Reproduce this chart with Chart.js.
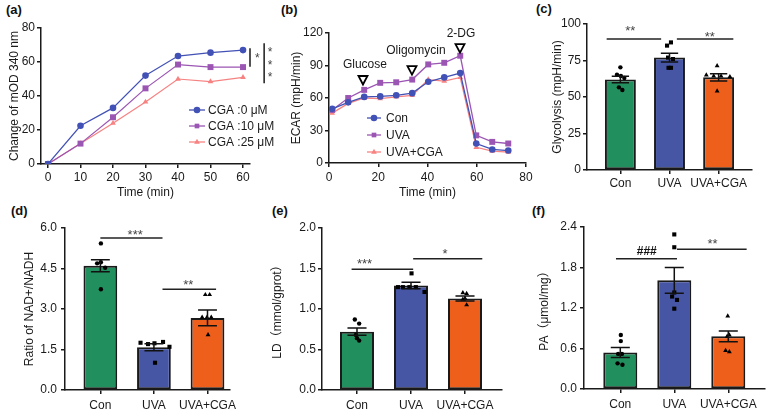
<!DOCTYPE html>
<html><head><meta charset="utf-8">
<script src="https://cdn.jsdelivr.net/npm/chart.js@4.4.1/dist/chart.umd.min.js"></script>
<style>
html,body{margin:0;padding:0;background:#fff;}
body{width:779px;height:419px;position:relative;overflow:hidden;font-family:"Liberation Sans",Arial,sans-serif;}
.pl{position:absolute;font-weight:bold;font-size:13px;line-height:13px;color:#111;}
canvas{position:absolute;}
</style></head><body>
<div class="pl" style="left:6px;top:3px">(a)</div>
<div class="pl" style="left:281px;top:3px">(b)</div>
<div class="pl" style="left:536px;top:2px">(c)</div>
<div class="pl" style="left:11px;top:204px">(d)</div>
<div class="pl" style="left:272px;top:204px">(e)</div>
<div class="pl" style="left:532px;top:204px">(f)</div>
<canvas id="ca"></canvas><canvas id="cb"></canvas><canvas id="cc"></canvas>
<canvas id="cd"></canvas><canvas id="ce"></canvas><canvas id="cf"></canvas>
<script>
// ---------------- DATA ----------------
// (a)
const timeA = [0, 10, 20, 30, 40, 50, 60];
const cga0  = [0, 22.5, 33, 52, 63.5, 65.5, 67];
const cga10 = [0, 12, 27.5, 44.5, 58.5, 57, 57];
const cga25 = [0, 12, 24, 36.5, 50, 48.5, 51];
const namesA = ['CGA :0 μM', 'CGA :10 μM', 'CGA :25 μM'];
const ticksAX = [0, 10, 20, 30, 40, 50, 60];
const ticksAY = [0, 20, 40, 60, 80];
const bracketsA = [{x: 62.15, y1: 68.1, y2: 57.2}, {x: 66.5, y1: 71, y2: 47.5}];
const starsA = [{x: 64.4, y: 63.7}, {x: 68.3, y: 67.5}, {x: 68.3, y: 59.8}, {x: 68.3, y: 52.4}];
// (b)
const timeB   = [1.3, 7.8, 14.3, 20.8, 27.3, 33.8, 40.3, 46.8, 53.3, 59.8, 66.3, 72.8];
const ecarCon = [50, 56, 61, 61.5, 62.5, 64.5, 75, 79, 83, 18, 12.5, 11.5];
const ecarUVA = [49, 60, 67.5, 74, 74.5, 77, 91, 92.5, 99, 25.5, 19.5, 18];
const ecarCGA = [46, 55, 60, 59.5, 61, 62.5, 77, 75.5, 79, 14.5, 11, 10];
const namesB = ['Con', 'UVA', 'UVA+CGA'];
const ticksBX = [0, 20, 40, 60, 80];
const ticksBY = [0, 30, 60, 90, 120];
const injNames = ['Glucose', 'Oligomycin', '2-DG'];
const injTriX = [13.8, 33.7, 53.2];
const injTriY = [76.6, 85.8, 106];
const injTextX = [14.6, 35.3, 53.6];
const injTextY = [90.5, 103.4, 119];
// bar panels
const groups = ['Con', 'UVA', 'UVA+CGA'];
// (c) Glycolysis
const glyMean = [62, 77, 63.5];
const glySem  = [2.2, 3, 2.5];
const glyDots = [[70.3, 65.3, 64.4, 63, 56.6, 54.8], [87.4, 85.2, 77, 76, 70, 70], [71.4, 65, 64.4, 64.4, 63.9, 54.1]];
const glyTicks = [0, 25, 50, 75, 100];
const glySig = [{x1: -0.28, x2: 0.83, y: 89.7, label: '**', tx: 0.2, ty: 97}, {x1: 1.15, x2: 2.3, y: 89.7, label: '**', tx: 1.82, ty: 93}];
// (d) NAD+/NADH
const nadMean = [4.6, 1.58, 2.67];
const nadSem  = [0.22, 0.13, 0.29];
const nadDots = [[5.43, 4.73, 4.69, 4.53, 3.73], [1.75, 1.7, 1.73, 1.78, 1.6, 1.01], [3.53, 3.53, 2.69, 2.69, 2.69, 2.04]];
const nadTicks = [0, 1.5, 3, 4.5, 6];
const nadSig = [{x1: 0, x2: 1.16, y: 5.63, label: '***', tx: 0.65, ty: 5.83}, {x1: 1.16, x2: 2.16, y: 3.73, label: '**', tx: 1.64, ty: 3.97}];
// (e) LD
const ldMean = [0.72, 1.29, 1.13];
const ldSem  = [0.045, 0.04, 0.03];
const ldDots = [[0.87, 0.82, 0.68, 0.64, 0.61], [1.44, 1.27, 1.27, 1.27, 1.27, 1.21], [1.2, 1.19, 1.13, 1.12, 1.05]];
const ldTicks = [0, 0.5, 1, 1.5, 2];
const ldSig = [{x1: -0.1, x2: 1.04, y: 1.49, label: '***', tx: 0.14, ty: 1.59}, {x1: 1.04, x2: 2.32, y: 1.62, label: '*', tx: 1.63, ty: 1.71}];
// (f) PA
const paMean = [0.54, 1.61, 0.78];
const paSem  = [0.075, 0.19, 0.08];
const paDots = [[0.8, 0.71, 0.52, 0.52, 0.38, 0.36], [2.29, 2.1, 1.43, 1.37, 1.32, 1.19], [1.08, 0.8, 0.78, 0.57, 0.55]];
const paTicks = [0, 0.6, 1.2, 1.8, 2.4];
const paSig = [{x1: -0.08, x2: 1.05, y: 1.93, label: '###', tx: 0.49, ty: 2.05}, {x1: 1.05, x2: 2.34, y: 2.07, label: '**', tx: 1.71, ty: 2.18}];

// ---------------- STYLE ----------------
const FONT = '"Liberation Sans", Arial, "Noto Sans CJK SC", sans-serif';
const INK = '#1a1a1a';
const LINE_COLORS = ['#4251b5', '#9b55b3', '#f78282'];
const LINE_STYLES = ['circle', 'rect', 'triangle'];
const BAR_COLORS = ['#21905e', '#4656a4', '#ee5f1c'];
const JITTER = [
  [0.0, -0.07, 0.01, 0.08, -0.03, 0.04],
  [0.03, -0.05, -0.03, 0.07, -0.02, 0.03],
  [-0.03, -0.25, -0.1, 0.05, 0.23, -0.03]
];
const JITTER2 = [
  [0.01, 0.01, -0.06, 0.09, 0.01, 0.0],
  [-0.25, -0.11, 0.01, 0.17, 0.29, 0.02],
  [-0.04, 0.04, -0.1, -0.01, 0.07, 0.01]
];
const JITTER3 = [
  [-0.04, 0.04, -0.02, 0.0, 0.04, 0.0],
  [0.01, -0.24, -0.15, -0.03, 0.09, 0.25],
  [-0.04, 0.03, 0.0, -0.04, 0.03, 0.0]
];
const JITTER4 = [
  [0.01, 0.01, -0.04, 0.03, -0.05, 0.04],
  [0.0, 0.0, 0.0, -0.04, 0.05, 0.0],
  [-0.01, 0.02, -0.02, -0.05, 0.02, 0.0]
];

function setupCanvas(id, L, T, W, H) {
  const c = document.getElementById(id);
  c.width = W; c.height = H;
  c.style.left = L + 'px'; c.style.top = T + 'px';
  c.style.width = W + 'px'; c.style.height = H + 'px';
  return c;
}
const gridOpt = {display: true, drawOnChartArea: false, drawTicks: true, tickLength: 4, color: INK, lineWidth: 1.5, offset: false};
const borderOpt = {display: true, color: INK, width: 1.5};
function axisY(o) {
  return {
    type: 'linear', position: 'left', min: o.min, max: o.max,
    afterBuildTicks: s => { s.ticks = o.ticks.map(v => ({value: v})); },
    afterFit: s => { s.width = o.width; },
    ticks: {font: {family: FONT, size: 12}, color: INK, padding: o.pad, callback: v => Number(v).toFixed(o.dec || 0)},
    grid: gridOpt, border: borderOpt,
    title: {display: true, text: o.title, font: {family: FONT, size: 12}, color: INK, padding: {top: o.pt, bottom: 0}}
  };
}
function axisX(o) {
  return {
    type: 'linear', position: 'bottom', min: o.min, max: o.max, offset: false,
    afterBuildTicks: s => { s.ticks = o.ticks.map(v => ({value: v})); },
    afterFit: s => { s.height = o.height; },
    ticks: {font: {family: FONT, size: 12}, color: INK, padding: o.pad, maxRotation: 0, autoSkip: false,
            callback: v => o.labels ? o.labels[v] : v},
    grid: gridOpt, border: borderOpt,
    title: o.title ? {display: true, text: o.title, font: {family: FONT, size: 12}, color: INK, padding: {top: 0, bottom: o.pb}} : {display: false}
  };
}
function marker(ctx, style, x, y, r, color) {
  ctx.save(); ctx.fillStyle = color; ctx.beginPath();
  if (style === 'circle') ctx.arc(x, y, r, 0, Math.PI * 2);
  else if (style === 'rect') { const s = r * Math.SQRT1_2; ctx.rect(x - s, y - s, 2 * s, 2 * s); }
  else { let a = 0; ctx.moveTo(x + Math.sin(a) * r, y - Math.cos(a) * r);
    a += 2 * Math.PI / 3; ctx.lineTo(x + Math.sin(a) * r, y - Math.cos(a) * r);
    a += 2 * Math.PI / 3; ctx.lineTo(x + Math.sin(a) * r, y - Math.cos(a) * r); ctx.closePath(); }
  ctx.fill(); ctx.restore();
}
function inkText(ctx, text, x, y, font, color) {
  ctx.save(); ctx.font = font; ctx.fillStyle = color; ctx.textAlign = 'center'; ctx.textBaseline = 'alphabetic';
  const m = ctx.measureText(text);
  ctx.fillText(text, x, y + (m.actualBoundingBoxAscent - m.actualBoundingBoxDescent) / 2);
  ctx.restore();
}
function legend(ctx, names, x1, x2, xm, xt, ys, r) {
  names.forEach((n, i) => {
    ctx.save(); ctx.strokeStyle = LINE_COLORS[i]; ctx.lineWidth = 1.3;
    ctx.beginPath(); ctx.moveTo(x1, ys[i]); ctx.lineTo(x2, ys[i]); ctx.stroke(); ctx.restore();
    marker(ctx, LINE_STYLES[i], xm, ys[i], r, LINE_COLORS[i]);
    ctx.save(); ctx.font = '12px ' + FONT; ctx.fillStyle = INK; ctx.textBaseline = 'middle'; ctx.textAlign = 'left';
    ctx.fillText(n, xt, ys[i] + 0.5); ctx.restore();
  });
}

// ---------------- (a) ----------------
(function () {
  const L = 0, T = 0, W = 282, H = 200, cl = 41, ct = 28, cr = 250, cb = 164;
  setupCanvas('ca', L, T, W, H);
  const series = [cga0, cga10, cga25];
  new Chart(document.getElementById('ca'), {
    type: 'line',
    data: {datasets: series.map((s, i) => ({
      label: namesA[i], data: timeA.map((t, k) => ({x: t, y: s[k]})),
      borderColor: LINE_COLORS[i], backgroundColor: LINE_COLORS[i], borderWidth: 1.2,
      pointStyle: LINE_STYLES[i], pointRadius: i === 1 ? 4.2 : 3.3, pointBorderWidth: 0, tension: 0
    }))},
    options: {
      responsive: false, animation: false, events: [],
      layout: {padding: {left: cl - L - 41, top: ct - T, right: L + W - cr, bottom: 0}},
      plugins: {legend: {display: false}, tooltip: {enabled: false}},
      scales: {
        x: axisX({min: -2.15, max: 62.15, ticks: ticksAX, height: H - cb, pad: 2, title: 'Time (min)', pb: 0.5}),
        y: axisY({min: 0, max: 80, ticks: ticksAY, width: 41, pad: 2, title: 'Change of mOD 340 nm', pt: 7})
      }
    },
    plugins: [{id: 'extraA', afterDraw(chart) {
      const {ctx, scales: {x, y}} = chart;
      ctx.save(); ctx.strokeStyle = INK; ctx.lineWidth = 1.5;
      bracketsA.forEach(b => { ctx.beginPath(); ctx.moveTo(x.getPixelForValue(b.x), y.getPixelForValue(b.y1));
        ctx.lineTo(x.getPixelForValue(b.x), y.getPixelForValue(b.y2)); ctx.stroke(); });
      ctx.restore();
      starsA.forEach(s => inkText(ctx, '*', x.getPixelForValue(s.x), y.getPixelForValue(s.y), '12px ' + FONT, '#444'));
      legend(ctx, namesA, 189, 205, 197, 208, [110, 126, 142], 3.3);
    }}]
  });
})();

// ---------------- (b) ----------------
(function () {
  const L = 282, T = 0, W = 256, H = 200, cl = 329, ct = 33, cr = 526, cb = 163;
  setupCanvas('cb', L, T, W, H);
  const series = [ecarCon, ecarUVA, ecarCGA];
  new Chart(document.getElementById('cb'), {
    type: 'line',
    data: {datasets: series.map((s, i) => ({
      label: namesB[i], data: timeB.map((t, k) => ({x: t, y: s[k]})),
      borderColor: LINE_COLORS[i], backgroundColor: LINE_COLORS[i], borderWidth: 1.3,
      pointStyle: LINE_STYLES[i], pointRadius: i === 1 ? 4.2 : 3.3, pointBorderWidth: 0, tension: 0
    }))},
    options: {
      responsive: false, animation: false, events: [],
      layout: {padding: {left: cl - L - 47, top: ct - T, right: L + W - cr, bottom: 0}},
      plugins: {legend: {display: false}, tooltip: {enabled: false}},
      scales: {
        x: axisX({min: 0, max: 80, ticks: ticksBX, height: H - cb, pad: 3, title: 'Time (min)', pb: 0}),
        y: axisY({min: 0, max: 120, ticks: ticksBY, width: 47, pad: 2, title: 'ECAR (mpH/min)', pt: 7.8})
      }
    },
    plugins: [{id: 'extraB', afterDraw(chart) {
      const {ctx, scales: {x, y}} = chart;
      injNames.forEach((n, i) => {
        const px = x.getPixelForValue(injTriX[i]), py = y.getPixelForValue(injTriY[i]);
        ctx.save(); ctx.beginPath(); ctx.moveTo(px - 4.5, py - 4); ctx.lineTo(px + 4.5, py - 4); ctx.lineTo(px, py + 4.5); ctx.closePath();
        ctx.fillStyle = '#fff'; ctx.fill(); ctx.strokeStyle = '#000'; ctx.lineWidth = 1.8; ctx.stroke(); ctx.restore();
        ctx.save(); ctx.font = '12px ' + FONT; ctx.fillStyle = INK; ctx.textAlign = 'center'; ctx.textBaseline = 'middle';
        ctx.fillText(n, x.getPixelForValue(injTextX[i]), y.getPixelForValue(injTextY[i])); ctx.restore();
      });
      legend(ctx, namesB, 85, 99, 92, 104, [118, 135, 152], 3.3);
    }}]
  });
})();

// ---------------- bar panels ----------------
function barPanel(id, box, means, sems, dots, jit, yTicks, dec, title, sig, pt, xpad, ypad) {
  const {L, T, W, H, cl, ct, cr, cb, xmin, xmax} = box;
  setupCanvas(id, L, T, W, H);
  const yW = cl - L;
  const dotStyles = ['circle', 'rect', 'triangle'];
  const dotR = [2.2, 2.9, 2.8];
  const ds = [{
    type: 'bar', data: means.map((m, i) => ({x: i, y: m})), backgroundColor: BAR_COLORS,
    borderColor: INK, borderWidth: 2, borderSkipped: false, barPercentage: 0.63, categoryPercentage: 1, order: 2
  }];
  dots.forEach((g, i) => ds.push({
    type: 'scatter', data: g.map((v, k) => ({x: i + jit[i][k], y: v})), pointStyle: dotStyles[i],
    pointRadius: dotR[i], pointBorderWidth: 0, backgroundColor: '#000', borderColor: '#000', order: 1
  }));
  new Chart(document.getElementById(id), {
    type: 'bar',
    data: {datasets: ds},
    options: {
      responsive: false, animation: false, events: [],
      layout: {padding: {left: 0, top: ct - T, right: L + W - cr, bottom: 0}},
      plugins: {legend: {display: false}, tooltip: {enabled: false}},
      scales: {
        x: axisX({min: xmin, max: xmax, ticks: [0, 1, 2], labels: groups, height: T + H - cb, pad: xpad}),
        y: axisY({min: yTicks[0], max: yTicks[yTicks.length - 1], ticks: yTicks, width: yW, pad: ypad, dec: dec, title: title, pt: pt})
      }
    },
    plugins: [{id: 'extra' + id, afterDatasetsDraw(chart) {
      const {ctx, scales: {x, y}} = chart;
      const bw = chart.getDatasetMeta(0).data[0].width;
      const cap = bw * 0.28;
      ctx.save(); ctx.strokeStyle = '#111'; ctx.lineWidth = 1.5;
      means.forEach((m, i) => {
        const px = x.getPixelForValue(i), t = y.getPixelForValue(m + sems[i]), b = y.getPixelForValue(m - sems[i]);
        ctx.beginPath(); ctx.moveTo(px, t); ctx.lineTo(px, b);
        ctx.moveTo(px - cap, t); ctx.lineTo(px + cap, t); ctx.moveTo(px - cap, b); ctx.lineTo(px + cap, b); ctx.stroke();
      });
      ctx.strokeStyle = '#222'; ctx.lineWidth = 1.5;
      sig.forEach(s => { const py = y.getPixelForValue(s.y);
        ctx.beginPath(); ctx.moveTo(x.getPixelForValue(s.x1), py); ctx.lineTo(x.getPixelForValue(s.x2), py); ctx.stroke(); });
      ctx.restore();
      sig.forEach(s => {
        const isHash = s.label.indexOf('#') >= 0;
        inkText(ctx, s.label, x.getPixelForValue(s.tx), y.getPixelForValue(s.ty),
          isHash ? 'bold 12px ' + FONT : '13px ' + FONT, isHash ? '#111' : '#444');
      });
    }}]
  });
}

barPanel('cc', {L: 540, T: 0, W: 239, H: 200, cl: 587, ct: 24, cr: 752, cb: 170, xmin: -0.68, xmax: 2.68},
  glyMean, glySem, glyDots, JITTER, glyTicks, 0, 'Glycolysis (mpH/min)', glySig, 10.8, 2, 2);
barPanel('cd', {L: 0, T: 202, W: 264, H: 217, cl: 65, ct: 228, cr: 230, cb: 390, xmin: -0.66, xmax: 2.42},
  nadMean, nadSem, nadDots, JITTER2, nadTicks, 1, 'Ratio of NAD+/NADH', nadSig, 22.8, 4, 4);
barPanel('ce', {L: 268, T: 202, W: 248, H: 217, cl: 322, ct: 228, cr: 502, cb: 390, xmin: -0.648, xmax: 2.685},
  ldMean, ldSem, ldDots, JITTER3, ldTicks, 1, 'LD（mmol/gprot）', ldSig, 2.8, 4, 2);
barPanel('cf', {L: 518, T: 202, W: 261, H: 217, cl: 584, ct: 227, cr: 765, cb: 389, xmin: -0.672, xmax: 2.68},
  paMean, paSem, paDots, JITTER4, paTicks, 1, 'PA（μmol/mg）', paSig, 19.8, 4, 3);
</script>
</body></html>
